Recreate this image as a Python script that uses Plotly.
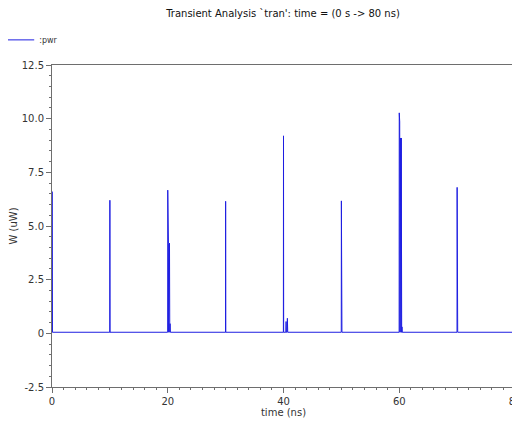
import plotly.graph_objects as go

# transient power trace (:pwr)
time_ns = [0.0, 0.02, 0.05, 0.08,
           9.98, 10.0, 10.03,
           19.98, 20.0, 20.03, 20.06, 20.09, 20.12, 20.15, 20.2, 20.25, 20.3, 20.35, 20.4, 20.45, 20.5,
           29.98, 30.0, 30.03,
           39.98, 40.0, 40.03, 40.4, 40.45, 40.5, 40.62, 40.67, 40.73,
           49.98, 50.0, 50.03, 50.06, 50.1,
           59.98, 60.0, 60.04, 60.08, 60.12, 60.16, 60.2, 60.25, 60.3, 60.35, 60.42, 60.47, 60.52,
           69.98, 70.0, 70.03, 70.06, 70.1,
           80.0]
power_uw = [0.05, 6.6, 0.3, 0.05,
            0.05, 6.2, 0.05,
            0.05, 6.67, 0.05, 4.95, 0.05, 4.2, 0.05, 4.2, 0.05, 4.2, 0.05, 0.45, 0.05, 0.05,
            0.05, 6.15, 0.05,
            0.05, 9.2, 0.05, 0.05, 0.55, 0.05, 0.05, 0.7, 0.05,
            0.05, 6.17, 0.05, 0.42, 0.05,
            0.05, 10.27, 0.05, 9.85, 0.05, 9.1, 0.05, 9.1, 0.05, 9.1, 0.05, 0.3, 0.05,
            0.05, 6.8, 0.05, 0.47, 0.05,
            0.05]

y_ticks = [-2.5, 0, 2.5, 5.0, 7.5, 10.0, 12.5]
y_labels = ["-2.5", "0", "2.5", "5.0", "7.5", "10.0", "12.5"]
x_ticks = [0, 20, 40, 60, 80]

font = "DejaVu Sans"
axis_col = "#6e6e6e"

fig = go.Figure()
fig.add_trace(go.Scatter(x=time_ns, y=power_uw, mode="lines", name=":pwr",
                         line=dict(color="rgb(30,30,225)", width=1)))

# page has an 8px body margin; the figure runs past the right window edge
# so the last tick label gets clipped like in the original
fig.update_layout(
    width=520, height=415,
    margin=dict(l=44, r=13, t=57, b=36, autoexpand=False),
    plot_bgcolor="white", paper_bgcolor="white",
    font=dict(family=font, size=10, color="#333"),
    title=dict(text="Transient Analysis `tran': time = (0 s -> 80 ns)",
               x=275 / 520, xanchor="center", y=1 - 5 / 415, yanchor="middle",
               font=dict(size=10, color="#111")),
    showlegend=True,
    legend=dict(x=-0.114, y=1.078, xanchor="left", yanchor="middle",
                bgcolor="rgba(0,0,0,0)", font=dict(size=8, color="#333"),
                itemwidth=30),
)
fig.update_xaxes(range=[0, 80], tickvals=x_ticks, showgrid=False, zeroline=False,
                 automargin=False,
                 showline=True, linecolor=axis_col, linewidth=1, mirror=True,
                 ticks="outside", ticklen=5, tickcolor=axis_col,
                 minor=dict(dtick=2, ticks="outside", ticklen=2, tickcolor=axis_col),
                 title=dict(text="time (ns)", standoff=2, font=dict(size=10)))
fig.update_yaxes(range=[-2.5, 12.5], tickvals=y_ticks, ticktext=y_labels,
                 showgrid=False, zeroline=False, automargin=False,
                 showline=True, linecolor=axis_col, linewidth=1, mirror=True,
                 ticks="outside", ticklen=5, tickcolor=axis_col,
                 minor=dict(dtick=0.5, ticks="outside", ticklen=2, tickcolor=axis_col),
                 title=dict(text="W (uW)", standoff=6, font=dict(size=10)))

fig.write_html("out.html")
